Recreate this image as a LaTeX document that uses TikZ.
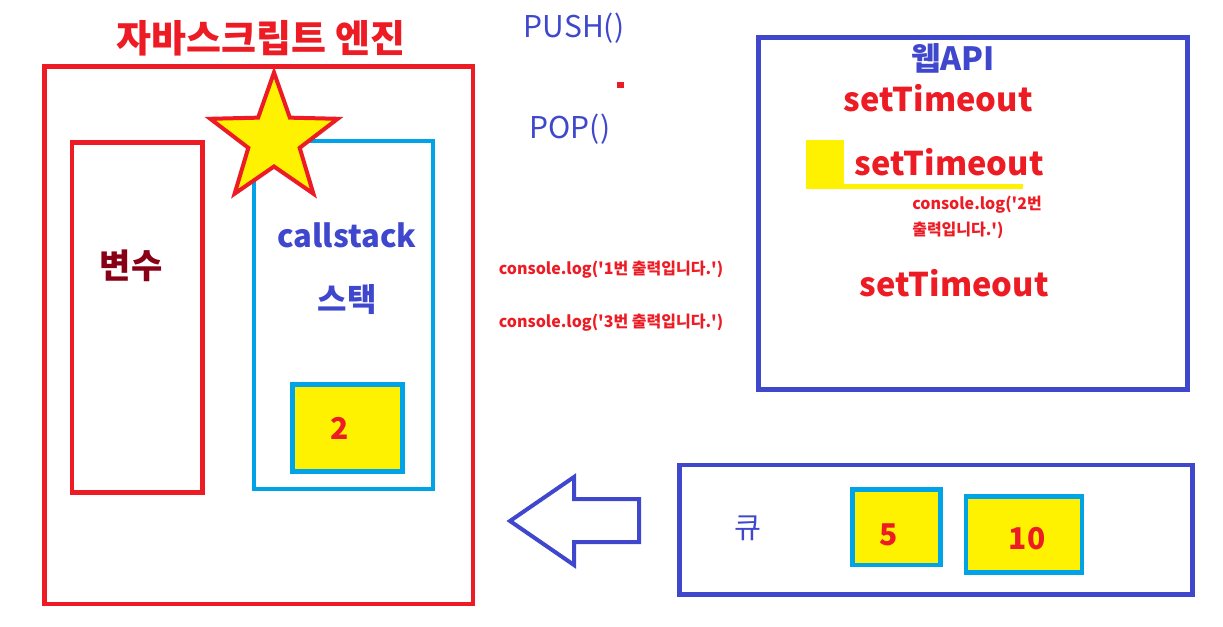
\documentclass[tikz,border=0pt]{standalone}
\usepackage{fontspec}
\setmainfont{Noto Sans CJK KR}
\usetikzlibrary{calc}
\definecolor{pred}{HTML}{ED1C24}
\definecolor{pindigo}{HTML}{3F48CC}
\definecolor{pcyan}{HTML}{00A2E8}
\definecolor{pyellow}{HTML}{FFF200}
\definecolor{pmaroon}{HTML}{880015}
\tikzset{
  redbox/.style={draw=pred, line width=3.4pt},
  bluebox/.style={draw=pindigo, line width=3.5pt},
  cyanbox/.style={draw=pcyan, line width=3pt},
  valbox/.style={draw=pcyan, fill=pyellow, line width=3.5pt},
  redtxt/.style={text=pred, font=\bfseries\fontsize{#1}{#1}\selectfont},
  bluetxt/.style={text=pindigo, font=\bfseries\fontsize{#1}{#1}\selectfont}
}
\begin{document}
\begin{tikzpicture}[x=0.75pt, y=-0.75pt, every node/.style={inner sep=0pt}]
\useasboundingbox (0,0) rectangle (1223,627);

\node (engine) [redbox, minimum width=321.4pt, minimum height=403.1pt] at (258.75,335.25) {};
\node (varbox) [redbox, minimum width=97.7pt, minimum height=262.5pt] at (137.2,317.3) {};
\node (stackbox) [cyanbox, minimum width=134.2pt, minimum height=260.8pt] at (343.8,314.85) {};
\node (item2) [valbox, minimum width=82.2pt, minimum height=65pt] at (347.5,428) {};
\node (webapi) [bluebox, minimum width=321.75pt, minimum height=264pt] at (972.8,213.3) {};
\node (queue) [bluebox, minimum width=385pt, minimum height=97.3pt] at (936,529.9) {};
\node (item5) [valbox, minimum width=66pt, minimum height=56.8pt] at (896.8,527.2) {};
\node (item10) [valbox, minimum width=86.8pt, minimum height=57pt] at (1024,534.3) {};

\draw[draw=pred, fill=pyellow, line width=3pt] (274,139.5) ++(-90:67) -- ++(0,0)
  \foreach \k in {0,...,4} {
    -- ($(274,139.5)+(-90+72*\k:67)$) -- ($(274,139.5)+(-54+72*\k:27)$)
  } -- cycle;

\fill[pyellow] (806,140) rectangle (844,189);
\fill[pyellow] (806,184) rectangle (1023,189);
\fill[pred] (617,82) rectangle (624,88);

\draw[draw=pindigo, line width=3pt] (510,521) -- (574,477) -- (574,499) -- (639,499)
  -- (639,542) -- (574,542) -- (574,565) -- cycle;

\node (title) [redtxt=28.5pt] at (261,38) {자바스크립트 엔진};
\node (vars) [text=pmaroon, font=\bfseries\fontsize{25.5pt}{25.5pt}\selectfont] at (131,266) {변수};
\node (cs) [bluetxt=23.3pt] at (347,235) {callstack};
\node (st) [bluetxt=24pt] at (347,300) {스택};
\node (v2) [redtxt=22.5pt] at (340,428) {2};
\node (push) [text=pindigo, font=\fontsize{22.5pt}{22.5pt}\selectfont] at (574,28) {PUSH()};
\node (pop) [text=pindigo, font=\fontsize{22.5pt}{22.5pt}\selectfont] at (570,129) {POP()};
\node (log1) [redtxt=12pt] at (611,270) {console.log(\textquotesingle 1번 출력입니다.\textquotesingle)};
\node (log3) [redtxt=12pt] at (611,323) {console.log(\textquotesingle 3번 출력입니다.\textquotesingle)};
\node (apititle) [bluetxt=24pt] at (953,58) {웹API};
\node (st1) [redtxt=24.5pt] at (938,98) {setTimeout};
\node (st2) [redtxt=24.5pt] at (949,162) {setTimeout};
\node (log2) [redtxt=12pt, align=left, anchor=west, font=\bfseries\fontsize{12pt}{19.5pt}\selectfont] at (912,217) {console.log(\textquotesingle 2번\\출력입니다.\textquotesingle)};
\node (st3) [redtxt=24.5pt] at (954,283) {setTimeout};
\node (q) [text=pindigo, font=\fontsize{22pt}{22pt}\selectfont] at (748,528) {큐};
\node (v5) [redtxt=22.5pt] at (889,535) {5};
\node (v10) [redtxt=22.5pt] at (1027,539) {10};
\end{tikzpicture}
\end{document}
